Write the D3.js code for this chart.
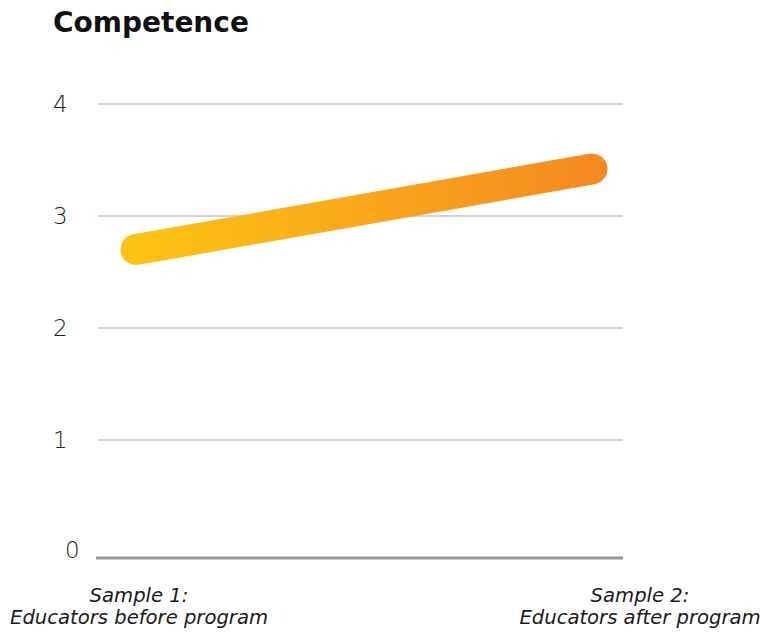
<!DOCTYPE html>
<html>
<head>
<meta charset="utf-8">
<script src="https://cdn.jsdelivr.net/npm/d3@7"></script>
<style>
  html, body { margin: 0; padding: 0; background: #ffffff; }
  svg { display: block; }
  text { font-family: "DejaVu Sans", sans-serif; }
</style>
</head>
<body>
<svg id="chart" width="763" height="633"></svg>
<script>
// Mean competence score per sample
const samples = ["Sample 1:", "Sample 2:"];
const sampleDescriptions = ["Educators before program", "Educators after program"];
const competence = [2.7, 3.42];
const yTicks = [0, 1, 2, 3, 4];
const chartTitle = "Competence";

const svg = d3.select("#chart");

const plot = { left: 98, right: 623, top: 104, bottom: 552 };

const y = d3.scaleLinear().domain([0, 4]).range([plot.bottom, plot.top]);
const x = d3.scalePoint().domain(samples).range([136, 592]);

// title
svg.append("text")
  .attr("x", 53).attr("y", 32)
  .attr("font-size", 28).attr("font-weight", 700)
  .attr("fill", "#111")
  .text(chartTitle);

// gridlines (value 0 is the heavier baseline, set a little lower)
svg.append("g").selectAll("line")
  .data(yTicks.filter(d => d > 0))
  .join("line")
  .attr("x1", plot.left).attr("x2", plot.right)
  .attr("y1", d => y(d)).attr("y2", d => y(d))
  .attr("stroke", "#d2d2d2").attr("stroke-width", 2);

const baseY = y(0) + 6;
svg.append("line")
  .attr("x1", plot.left - 2).attr("x2", plot.right)
  .attr("y1", baseY).attr("y2", baseY)
  .attr("stroke", "#999").attr("stroke-width", 3);

// y tick labels
svg.append("g").selectAll("text")
  .data(yTicks)
  .join("text")
  .attr("x", d => d === 0 ? 65 : 53)
  .attr("y", d => d === 0 ? baseY - 8 : y(d))
  .attr("dy", "0.36em")
  .attr("font-size", 23).attr("font-weight", 300)
  .attr("fill", "#1e1e1e")
  .text(d => d);

// gradient stroke from yellow to orange
const defs = svg.append("defs");
const grad = defs.append("linearGradient")
  .attr("id", "lineGrad")
  .attr("gradientUnits", "userSpaceOnUse")
  .attr("x1", x(samples[0])).attr("x2", x(samples[1]))
  .attr("y1", 0).attr("y2", 0);
grad.append("stop").attr("offset", "0%").attr("stop-color", "#fdc414");
grad.append("stop").attr("offset", "50%").attr("stop-color", "#f9a71b");
grad.append("stop").attr("offset", "100%").attr("stop-color", "#f58a20");

const line = d3.line()
  .x((d, i) => x(samples[i]))
  .y(d => y(d));

svg.append("path")
  .datum(competence)
  .attr("d", line)
  .attr("fill", "none")
  .attr("stroke", "url(#lineGrad)")
  .attr("stroke-width", 31)
  .attr("stroke-linecap", "round");

// category labels
const labelX = [x(samples[0]) + 3, x(samples[1]) + 48];
const labels = svg.append("g");
samples.forEach((s, i) => {
  const t = labels.append("text")
    .attr("x", labelX[i]).attr("y", 602)
    .attr("text-anchor", "middle")
    .attr("font-size", 19.6).attr("font-style", "italic")
    .attr("fill", "#1a1a1a");
  t.append("tspan").attr("x", labelX[i]).text(s);
  t.append("tspan").attr("x", labelX[i]).attr("dy", 22).text(sampleDescriptions[i]);
});
</script>
</body>
</html>
